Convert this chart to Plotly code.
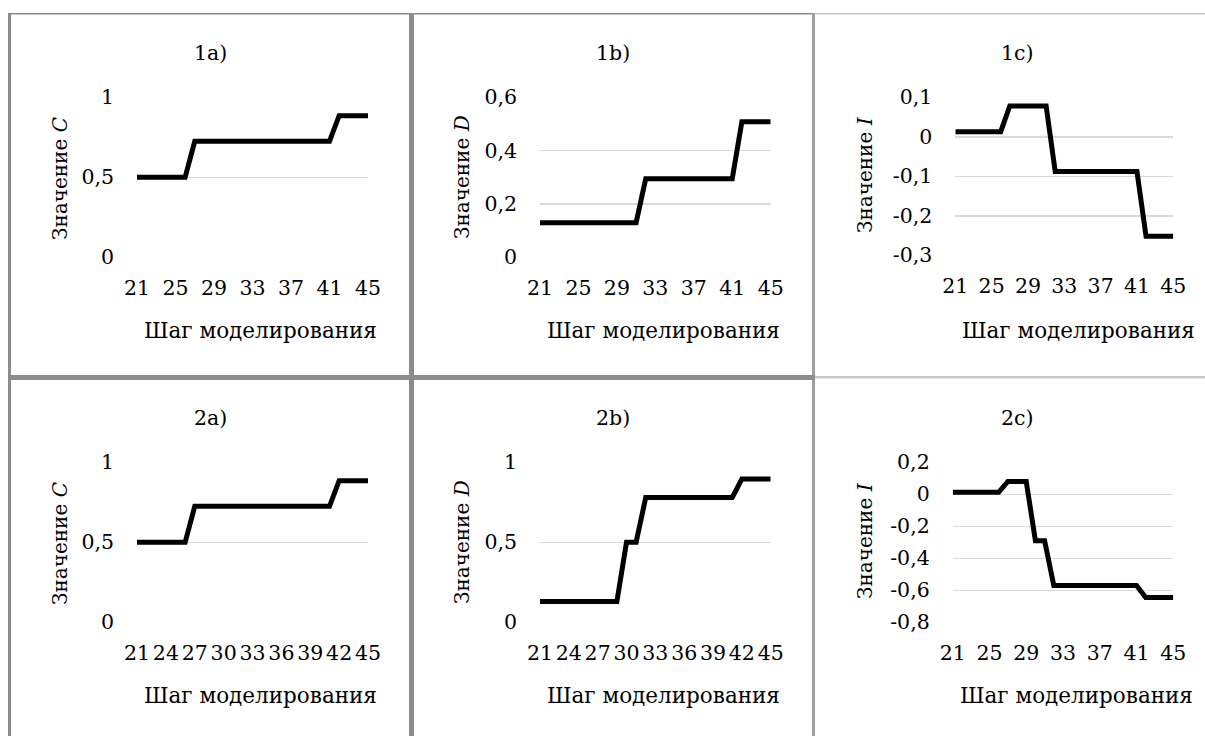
import plotly.graph_objects as go

W, H = 1205, 736

# ---------------- data ----------------
steps = [21, 22, 23, 24, 25, 26, 27, 28, 29, 30, 31, 32, 33,
         34, 35, 36, 37, 38, 39, 40, 41, 42, 43, 44, 45]

C1 = [0.5, 0.5, 0.5, 0.5, 0.5, 0.5,
      0.725, 0.725, 0.725, 0.725, 0.725, 0.725, 0.725, 0.725, 0.725, 0.725, 0.725, 0.725, 0.725, 0.725, 0.725,
      0.885, 0.885, 0.885, 0.885]
D1 = [0.13, 0.13, 0.13, 0.13, 0.13, 0.13, 0.13, 0.13, 0.13, 0.13, 0.13,
      0.295, 0.295, 0.295, 0.295, 0.295, 0.295, 0.295, 0.295, 0.295, 0.295,
      0.508, 0.508, 0.508, 0.508]
I1 = [0.013, 0.013, 0.013, 0.013, 0.013, 0.013,
      0.078, 0.078, 0.078, 0.078, 0.078,
      -0.088, -0.088, -0.088, -0.088, -0.088, -0.088, -0.088, -0.088, -0.088, -0.088,
      -0.252, -0.252, -0.252, -0.252]
C2 = [0.5, 0.5, 0.5, 0.5, 0.5, 0.5,
      0.725, 0.725, 0.725, 0.725, 0.725, 0.725, 0.725, 0.725, 0.725, 0.725, 0.725, 0.725, 0.725, 0.725, 0.725,
      0.885, 0.885, 0.885, 0.885]
D2 = [0.13, 0.13, 0.13, 0.13, 0.13, 0.13, 0.13, 0.13, 0.13,
      0.5, 0.5,
      0.78, 0.78, 0.78, 0.78, 0.78, 0.78, 0.78, 0.78, 0.78, 0.78,
      0.895, 0.895, 0.895, 0.895]
I2 = [0.0125, 0.0125, 0.0125, 0.0125, 0.0125, 0.0125,
      0.08, 0.08, 0.08,
      -0.29, -0.29,
      -0.57, -0.57, -0.57, -0.57, -0.57, -0.57, -0.57, -0.57, -0.57, -0.57,
      -0.645, -0.645, -0.645, -0.645]

xticks_by4 = [21, 25, 29, 33, 37, 41, 45]
xticks_by3 = [21, 24, 27, 30, 33, 36, 39, 42, 45]

yt_C = [0, 0.5, 1]
yt_C_text = ["0", "0,5", "1"]
yt_D1 = [0, 0.2, 0.4, 0.6]
yt_D1_text = ["0", "0,2", "0,4", "0,6"]
yt_I1 = [-0.3, -0.2, -0.1, 0, 0.1]
yt_I1_text = ["-0,3", "-0,2", "-0,1", "0", "0,1"]
yt_D2 = [0, 0.5, 1]
yt_D2_text = ["0", "0,5", "1"]
yt_I2 = [-0.8, -0.6, -0.4, -0.2, 0, 0.2]
yt_I2_text = ["-0,8", "-0,6", "-0,4", "-0,2", "0", "0,2"]

titles = ["1a)", "1b)", "1c)", "2a)", "2b)", "2c)"]
ylabels = ["Значение <i>C</i>", "Значение <i>D</i>", "Значение <i>I</i>",
           "Значение <i>C</i>", "Значение <i>D</i>", "Значение <i>I</i>"]
xlabel = "Шаг моделирования"

# ---------------- layout helpers ----------------
FONT = "DejaVu Serif"
FS_TICK = 20.5
FS_TITLE = 20.5
FS_YLAB = 20
FS_XLAB = 21.5

def px(x):
    return x / W

def py(y):
    return 1 - y / H

panels = [
    (C1, [0, 1], yt_C, yt_C_text, xticks_by4, (137, 368, 97.3, 257.3), (210, 53), (60, 178), (260, 330)),
    (D1, [0, 0.6], yt_D1, yt_D1_text, xticks_by4, (540, 770.7, 97.3, 257.3), (613, 53), (462, 177), (663, 330)),
    (I1, [-0.3, 0.1], yt_I1, yt_I1_text, xticks_by4, (955.3, 1173.3, 97.3, 255.3), (1017, 53), (865, 175), (1078, 330)),
    (C2, [0, 1], yt_C, yt_C_text, xticks_by3, (137, 368, 462.3, 622.3), (210, 418), (60, 543), (260, 695)),
    (D2, [0, 1], yt_D2, yt_D2_text, xticks_by3, (540, 770.7, 462.3, 622.3), (613, 418), (462, 542), (663, 695)),
    (I2, [-0.8, 0.2], yt_I2, yt_I2_text, xticks_by4, (952.7, 1173.3, 462.3, 622.3), (1017, 418), (865, 541), (1076, 695)),
]

fig = go.Figure()
annotations = []
for i, (vals, yr, ytv, ytt, xtv, box, tpos, ylpos, xlpos) in enumerate(panels):
    n = "" if i == 0 else str(i + 1)
    x0, x1, yt, yb = box
    fig.add_trace(go.Scatter(
        x=steps, y=vals, mode="lines",
        line=dict(color="black", width=5),
        xaxis="x" + n, yaxis="y" + n, showlegend=False, hoverinfo="skip",
    ))
    fig.layout["xaxis" + n] = dict(
        domain=[px(x0), px(x1)], range=[21, 45], anchor="y" + n,
        tickvals=xtv, ticktext=[str(v) for v in xtv], tickangle=0,
        showgrid=False, zeroline=False, showline=False, ticks="",
        ticklabelstandoff=16, automargin=False, fixedrange=True,
        tickfont=dict(family=FONT, size=FS_TICK, color="black"),
    )
    fig.layout["yaxis" + n] = dict(
        domain=[py(yb), py(yt)], range=yr, anchor="x" + n,
        tickvals=ytv, ticktext=ytt,
        showgrid=True, gridcolor="#d9d9d9", gridwidth=1.5,
        zeroline=False, showline=False, ticks="",
        ticklabelstandoff=22, automargin=False, fixedrange=True,
        tickfont=dict(family=FONT, size=FS_TICK, color="black"),
    )
    annotations.append(dict(text=titles[i], x=px(tpos[0]), y=py(tpos[1]), xref="paper", yref="paper",
                            showarrow=False, xanchor="center", yanchor="middle",
                            font=dict(family=FONT, size=FS_TITLE, color="black")))
    annotations.append(dict(text=ylabels[i], x=px(ylpos[0]), y=py(ylpos[1]), xref="paper", yref="paper",
                            showarrow=False, xanchor="center", yanchor="middle", textangle=-90,
                            font=dict(family=FONT, size=FS_YLAB, color="black")))
    annotations.append(dict(text=xlabel, x=px(xlpos[0]), y=py(xlpos[1]), xref="paper", yref="paper",
                            showarrow=False, xanchor="center", yanchor="middle",
                            font=dict(family=FONT, size=FS_XLAB, color="black")))

DARK = "#8c8c8c"
LIGHT = "#c8c8c8"

def rect(xa, xb, ya, yb, color):
    return dict(type="rect", xref="paper", yref="paper",
                x0=px(xa), x1=px(xb), y0=py(yb), y1=py(ya),
                line=dict(width=0), fillcolor=color, layer="above")

shapes = [
    rect(8, 11, 13, 736, DARK),
    rect(8, 813, 13, 14.5, DARK),
    rect(813, 1205, 13, 14.5, LIGHT),
    rect(409, 414, 13, 736, DARK),
    rect(812, 815, 13, 736, "#a0a0a0"),
    rect(8, 815, 375, 380, DARK),
    rect(815, 1205, 376, 378.5, LIGHT),
]

fig.update_layout(
    width=W, height=H,
    margin=dict(l=0, r=0, t=0, b=0, pad=0, autoexpand=False),
    paper_bgcolor="white", plot_bgcolor="white",
    annotations=annotations, shapes=shapes,
    font=dict(family=FONT, size=FS_TICK, color="black"),
    showlegend=False,
)

fig.write_html("out.html", config={"displayModeBar": False, "staticPlot": True},
               post_script="document.body.style.margin='0';document.body.style.padding='0';")
